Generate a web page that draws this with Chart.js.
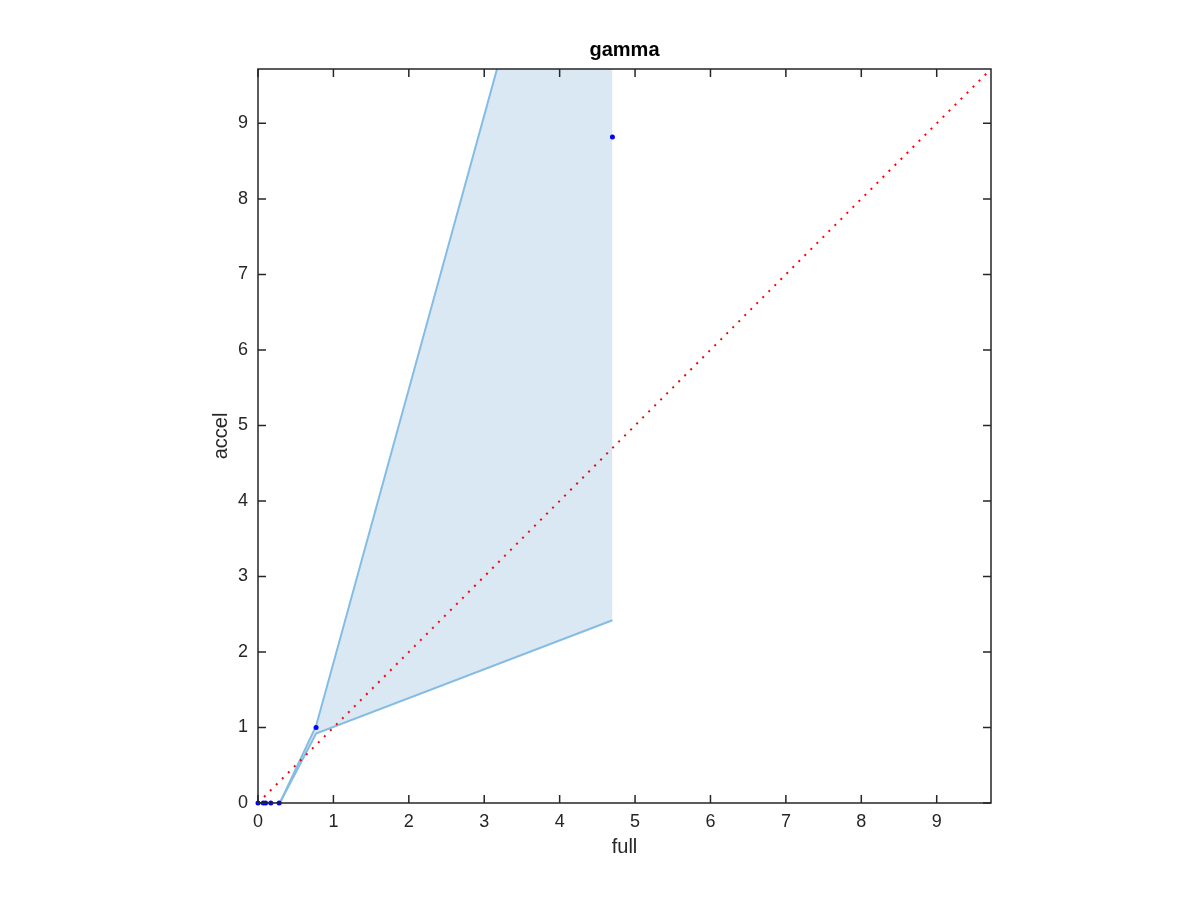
<!DOCTYPE html>
<html>
<head>
<meta charset="utf-8">
<script src="https://cdn.jsdelivr.net/npm/chart.js@4/dist/chart.umd.min.js"></script>
<style>
  html, body { margin: 0; padding: 0; background: #fff; }
  #wrap { width: 1200px; height: 900px; }
</style>
</head>
<body>
<div id="wrap"><canvas id="myChart" width="1200" height="900"></canvas></div>
<script>
// bounds of the shaded band
const bandX = [0, 0.29, 0.77, 4.7];
const lowerY = [0, 0, 0.92, 2.42];
const upperY = [0, 0, 1.02, 15.27];
// blue sample points
const pointX = [0, 0.07, 0.1, 0.17, 0.28, 0.77, 4.7];
const pointY = [0, 0, 0, 0, 0, 1.0, 8.82];
// y = x reference line and axes
const axisMax = 9.72;
const refX = [0, axisMax];
const tickValues = [0, 1, 2, 3, 4, 5, 6, 7, 8, 9];

const toXY = (xs, ys) => xs.map((x, i) => ({ x: x, y: ys[i] }));

const ink = '#262626';
const lineBlue = '#85bce3';

// box around the axes with inward ticks on all four sides
const boxPlugin = {
    id: 'box',
    afterDraw(chart) {
        const ctx = chart.ctx;
        const a = chart.chartArea;
        const xs = chart.scales.x, ys = chart.scales.y;
        const tl = 8;
        ctx.save();
        ctx.strokeStyle = ink;
        ctx.lineWidth = 1.5;
        ctx.strokeRect(a.left, a.top, a.right - a.left, a.bottom - a.top);
        ctx.beginPath();
        xs.ticks.forEach(t => {
            const px = xs.getPixelForValue(t.value);
            ctx.moveTo(px, a.bottom); ctx.lineTo(px, a.bottom - tl);
            ctx.moveTo(px, a.top); ctx.lineTo(px, a.top + tl);
        });
        ys.ticks.forEach(t => {
            const py = ys.getPixelForValue(t.value);
            ctx.moveTo(a.left, py); ctx.lineTo(a.left + tl, py);
            ctx.moveTo(a.right, py); ctx.lineTo(a.right - tl, py);
        });
        ctx.stroke();
        ctx.restore();
    }
};

const setTicks = scale => { scale.ticks = tickValues.map(v => ({ value: v })); };

const ctx = document.getElementById('myChart').getContext('2d');
const myChart = new Chart(ctx, {
    type: 'line',
    data: {
        datasets: [
            {
                data: toXY(bandX, lowerY),
                borderColor: lineBlue,
                borderWidth: 2,
                pointRadius: 0,
                fill: false,
                order: 3
            },
            {
                data: toXY(bandX, upperY),
                borderColor: lineBlue,
                borderWidth: 2,
                pointRadius: 0,
                backgroundColor: '#dae8f4',
                fill: '-1',
                order: 4
            },
            {
                data: toXY(refX, refX),
                borderColor: '#ff0000',
                borderWidth: 2,
                borderDash: [2, 6.5],
                pointRadius: 0,
                fill: false,
                order: 2
            },
            {
                data: toXY(pointX, pointY),
                showLine: false,
                pointRadius: 2.5,
                pointBackgroundColor: '#0000ff',
                pointBorderWidth: 0,
                clip: false,
                order: 1
            }
        ]
    },
    options: {
        responsive: false,
        animation: false,
        layout: { padding: { left: 200, right: 209, top: 0, bottom: 37 } },
        plugins: {
            legend: { display: false },
            tooltip: { enabled: false },
            title: {
                display: true,
                fullSize: false,
                text: 'gamma',
                color: '#000',
                font: { family: 'Liberation Sans', size: 20, weight: 'bold' },
                padding: { top: 38, bottom: 7 }
            }
        },
        scales: {
            x: {
                type: 'linear',
                min: 0,
                max: axisMax,
                afterBuildTicks: setTicks,
                afterFit: s => { s.height = 60; },
                grid: { display: false },
                border: { display: false },
                ticks: {
                    color: ink,
                    padding: 0,
                    maxRotation: 0,
                    font: { family: 'Liberation Sans', size: 18 }
                },
                title: {
                    display: true,
                    text: 'full',
                    color: ink,
                    font: { family: 'Liberation Sans', size: 20 },
                    padding: { top: 0, bottom: 4 }
                }
            },
            y: {
                type: 'linear',
                min: 0,
                max: axisMax,
                afterBuildTicks: setTicks,
                afterFit: s => { s.width = 58; },
                grid: { display: false },
                border: { display: false },
                ticks: {
                    color: ink,
                    padding: 2,
                    font: { family: 'Liberation Sans', size: 18 }
                },
                title: {
                    display: true,
                    text: 'accel',
                    color: ink,
                    font: { family: 'Liberation Sans', size: 20 },
                    padding: { top: 9, bottom: 0 }
                }
            }
        }
    },
    plugins: [boxPlugin]
});
</script>
</body>
</html>
